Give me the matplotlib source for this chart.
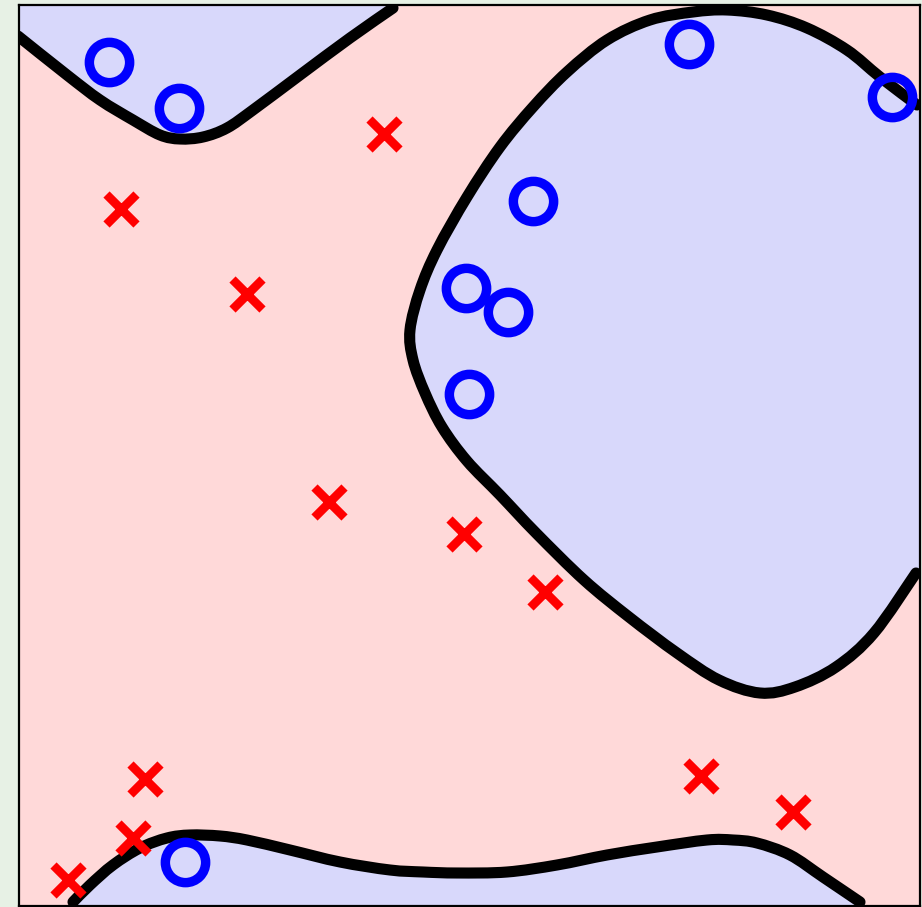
import matplotlib
matplotlib.use('Agg')  # Non-interactive backend
import matplotlib.pyplot as plt
from matplotlib.path import Path
from matplotlib.patches import PathPatch

# Training points (pixel units, y pointing down)
pos_x = [109, 179, 689, 892, 533, 466, 508, 469, 185]
pos_y = [62, 108, 44, 97, 201, 288, 312, 394, 862]
neg_x = [384, 121, 247, 329, 464, 545, 145, 701, 793, 133, 68]
neg_y = [134, 209, 294, 502, 534, 592, 779, 776, 812, 838, 880]

# Decision boundary traces
top_x = [18, 67, 100, 133, 160, 180, 203, 227, 253, 300, 350, 393]
top_y = [36, 75, 100, 120, 135, 139, 137, 128, 110, 75, 38, 8]

blob_x = [917, 880, 847, 807, 767, 727, 693, 650, 607, 567, 533, 500, 467,
          437, 420, 410, 413, 425, 442, 467, 500, 536, 584, 629, 677, 719,
          760, 795, 836, 874, 916]
blob_y = [105, 77, 50, 28, 15, 10, 12, 20, 40, 72, 107, 147, 197,
          250, 290, 330, 360, 393, 427, 461, 495, 533, 580, 617, 653, 680,
          693, 687, 667, 633, 573]

bot_x = [73, 90, 113, 140, 167, 190, 220, 247, 290, 340, 390, 423, 457,
         507, 557, 607, 657, 707, 733, 757, 790, 823, 860]
bot_y = [902, 885, 865, 848, 838, 835, 836, 840, 850, 862, 870, 872, 873,
         872, 865, 855, 847, 840, 840, 843, 855, 877, 902]

x_lim = (18.5, 919.5)
y_lim = (906, 5.5)

RED_BG = '#ffd9d9'
BLUE_BG = '#d8d8fb'


def smooth(xs, ys, extra=()):
    """Bezier path through the traced points (Catmull-Rom tangents)."""
    pts = list(zip(xs, ys))
    n = len(pts)
    verts = [pts[0]]
    codes = [Path.MOVETO]
    for i in range(n - 1):
        p0 = pts[max(i - 1, 0)]
        p1 = pts[i]
        p2 = pts[i + 1]
        p3 = pts[min(i + 2, n - 1)]
        c1 = (p1[0] + (p2[0] - p0[0]) / 6, p1[1] + (p2[1] - p0[1]) / 6)
        c2 = (p2[0] - (p3[0] - p1[0]) / 6, p2[1] - (p3[1] - p1[1]) / 6)
        verts += [c1, c2, p2]
        codes += [Path.CURVE4] * 3
    if extra:
        for p in extra:
            verts.append(p)
            codes.append(Path.LINETO)
        verts.append(pts[0])
        codes.append(Path.CLOSEPOLY)
    return Path(verts, codes)


fig = plt.figure(figsize=(9.22, 9.07), dpi=100, facecolor='#e7f1e5')
ax = fig.add_axes([18.5 / 922, 1 / 907, 901 / 922, 900.5 / 907])
ax.set_facecolor(RED_BG)

regions = [
    (top_x, top_y, [(top_x[-1], -20), (-20, -20), (-20, top_y[0])]),
    (blob_x, blob_y, [(950, blob_y[-1]), (950, blob_y[0])]),
    (bot_x, bot_y, [(bot_x[-1], 950), (bot_x[0], 950)]),
]

for xs, ys, corners in regions:
    ax.add_patch(PathPatch(smooth(xs, ys, corners), fc=BLUE_BG, lw=0))
for xs, ys, _ in regions:
    ax.add_patch(PathPatch(smooth(xs, ys), fc='none', ec='black', lw=8,
                           capstyle='round', joinstyle='round'))

ax.plot(pos_x, pos_y, 'o', ls='none', ms=29, mfc='none', mec='#0000ff',
        mew=6.8)
ax.plot(neg_x, neg_y, 'x', ls='none', ms=21, mec='#ff0000', mew=6.3)

ax.set_xlim(*x_lim)
ax.set_ylim(*y_lim)
ax.set_xticks([])
ax.set_yticks([])
for s in ax.spines.values():
    s.set_linewidth(1.6)

fig.savefig('out.png', dpi=100, facecolor=fig.get_facecolor())
plt.close(fig)

# EOF
